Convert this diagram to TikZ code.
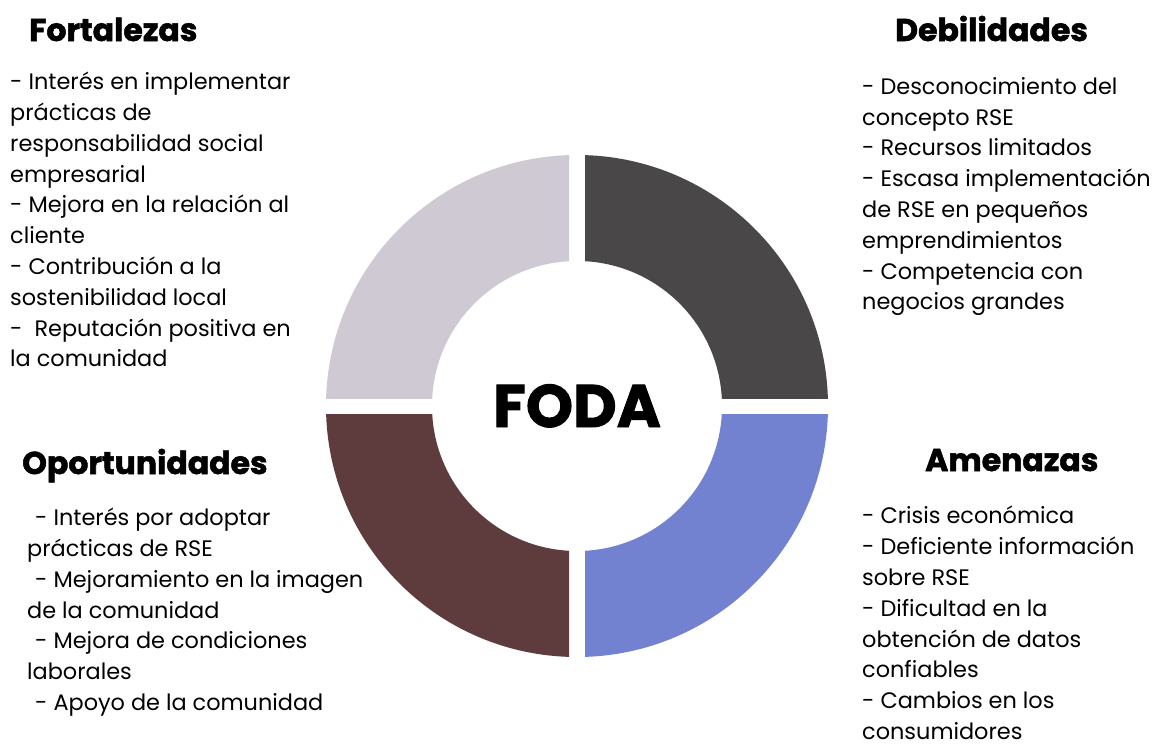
\documentclass[tikz,border=0pt]{standalone}
\usepackage{fontspec}
\setmainfont{Poppins}
\definecolor{segLight}{RGB}{206,201,211}
\definecolor{segDark}{RGB}{74,71,73}
\definecolor{segBrown}{RGB}{94,59,61}
\definecolor{segBlue}{RGB}{114,129,208}
\tikzset{
  headtxt/.style={anchor=base west, inner sep=0pt, font=\fontsize{31.5}{35}\selectfont\bfseries\addfontfeature{FakeBold=1.6}},
  bodytxt/.style={anchor=north west, inner sep=0pt, align=left, font=\fontsize{22.4}{30.8}\selectfont},
}
\begin{document}
\begin{tikzpicture}[x=1pt,y=-1pt]
\useasboundingbox (0,0) rectangle (1157,744);
\fill[white] (0,0) rectangle (1157,744);
\coordinate (c) at (577,406);
% donut quadrants
\begin{scope}
  \clip (569,398) rectangle (300,130);
  \fill[segLight,even odd rule] (c) circle[radius=251pt] (c) circle[radius=145pt];
\end{scope}
\begin{scope}
  \clip (585,398) rectangle (860,130);
  \fill[segDark,even odd rule] (c) circle[radius=251pt] (c) circle[radius=145pt];
\end{scope}
\begin{scope}
  \clip (569,414) rectangle (300,690);
  \fill[segBrown,even odd rule] (c) circle[radius=251pt] (c) circle[radius=145pt];
\end{scope}
\begin{scope}
  \clip (585,414) rectangle (860,690);
  \fill[segBlue,even odd rule] (c) circle[radius=251pt] (c) circle[radius=145pt];
\end{scope}
\node[anchor=base, inner sep=0pt, font=\fontsize{60}{64}\selectfont\bfseries\addfontfeature{FakeBold=1.5}] (foda) at (577,427) {FODA};
% headings
\node[headtxt] (hF) at (29,41) {Fortalezas};
\node[headtxt] (hD) at (895,41) {Debilidades};
\node[headtxt] (hO) at (22,474) {Oportunidades};
\node[headtxt] (hA) at (925,471) {Amenazas};
% bodies
\node[bodytxt] (bF) at (10,72) {- Interés en implementar\\prácticas de\\responsabilidad social\\empresarial\\- Mejora en la relación al\\cliente\\- Contribución a la\\sostenibilidad local\\-\ \ Reputación positiva en\\la comunidad};
\node[bodytxt] (bD) at (862,77) {- Desconocimiento del\\concepto RSE\\- Recursos limitados\\- Escasa implementación\\de RSE en pequeños\\emprendimientos\\- Competencia con\\negocios grandes};
\node[bodytxt] (bO) at (27,508) {\hspace*{8pt}- Interés por adoptar\\prácticas de RSE\\\hspace*{8pt}- Mejoramiento en la imagen\\de la comunidad\\\hspace*{8pt}- Mejora de condiciones\\laborales\\\hspace*{8pt}- Apoyo de la comunidad};
\node[bodytxt] (bA) at (862,506) {- Crisis económica\\- Deficiente información\\sobre RSE\\- Dificultad en la\\obtención de datos\\confiables\\- Cambios en los\\consumidores};
\end{tikzpicture}
\end{document}
